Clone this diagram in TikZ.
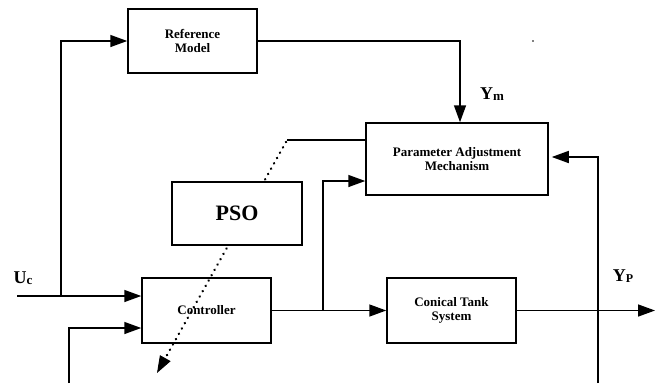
\documentclass[tikz,border=0pt]{standalone}
\usepackage{fontspec}
\setmainfont{Liberation Serif}
\usetikzlibrary{arrows.meta,calc}
\begin{document}
\begin{tikzpicture}[x=1pt,y=-1pt,line width=1.5pt,
  blk/.style={draw,align=center,inner sep=0pt,font=\fontsize{13}{14}\selectfont\bfseries},
  arr/.style={-{Triangle[length=17pt,width=12pt]}},
  dotarr/.style={dash pattern=on 0.1pt off 6pt,line cap=round,line width=2.6pt,-{Triangle[length=17pt,width=12pt,line width=1pt]}},
  lbl/.style={font=\fontsize{18}{18}\selectfont\bfseries,inner sep=0pt}]
\useasboundingbox (0,0) rectangle (655,383);
% blocks
\node[blk,minimum width=129pt,minimum height=64pt] (refm) at (192.5,41) {Reference\\Model};
\node[blk,minimum width=182pt,minimum height=72pt] (pam) at (457,159) {Parameter Adjustment\\Mechanism};
\node[blk,minimum width=129pt,minimum height=65pt] (ctrl) at (206.5,310.5) {Controller};
\node[blk,minimum width=129pt,minimum height=65pt] (tank) at (451.5,310.5) {Conical Tank\\System};
% dotted tuning line (hidden behind PSO)
\coordinate (d0) at (286,142);
\coordinate (d1) at (157,373);
\draw[dotarr] (d0) -- (d1);
\node[blk,fill=white,minimum width=130pt,minimum height=63pt,font=\fontsize{22}{22}\selectfont\bfseries] (pso) at (237,213.5) {PSO};
% coordinates
\coordinate (d00) at (287,140);
\coordinate (uc) at (17,296);
\coordinate (j1) at (61,296);
\coordinate (fb1) at (69,383);
\coordinate (c2) at (69,328);
\coordinate (ymx) at (460,41);
\coordinate (j2) at (323,310.5);
\coordinate (p2) at (323,181);
\coordinate (yout) at (655,310.5);
\coordinate (fb2) at (598,383);
\coordinate (fb2t) at (598,157);
% connectors
\draw (pam.west |- d00) -- (d00);
\draw[arr] (uc) -- (uc -| ctrl.west);
\draw[arr] (j1) |- (refm.west);
\draw[arr] (fb1) -- (c2) -- (c2 -| ctrl.west);
\draw[arr] (refm.east) -- (ymx) -- (ymx |- pam.north);
\draw[arr] (ctrl.east) -- (tank.west);
\draw[arr] (j2) -- (p2) -- (p2 -| pam.west);
\draw[arr] (tank.east) -- (yout);
\draw[arr,shorten >=3pt] (fb2) -- (fb2t) -- (fb2t -| pam.east);
% labels
\node[lbl] (ucl) at (23,278) {U\raisebox{-1.5pt}{\fontsize{13}{13}\selectfont c}};
\node[lbl] (yml) at (492,94) {Y\raisebox{-1pt}{\fontsize{13}{13}\selectfont m}};
\node[lbl] (ypl) at (623,276) {Y\raisebox{-1.5pt}{\fontsize{12}{12}\selectfont P}};
\fill (533,41) circle (0.9pt);
\end{tikzpicture}
\end{document}
